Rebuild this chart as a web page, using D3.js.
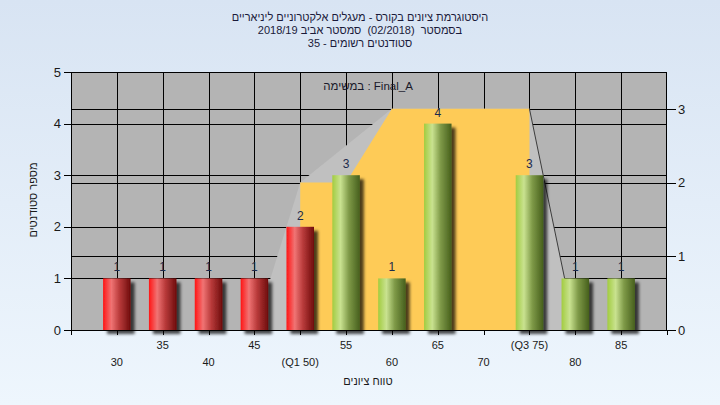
<!DOCTYPE html>
<html><head><meta charset="utf-8">
<script src="https://cdn.jsdelivr.net/npm/d3@7"></script>
<style>
html,body{margin:0;padding:0;}
svg{display:block;}
text{font-family:"Liberation Sans",Arial,"DejaVu Sans",sans-serif;white-space:pre;}
</style></head>
<body>
<svg id="chart" width="720" height="405"></svg>
<script>
// ---- data ----
const categories = [30,35,40,45,50,55,60,65,70,75,80,85];
const counts     = [1,1,1,1,2,3,1,4,0,3,1,1];
const tickLabels = ["30","35","40","45","(Q1 50)","55","60","65","70","(Q3 75)","80","85"];
const passMark = 55;
const grayX   = [45,50,60,75,80];
const grayY   = [0,2,3,3,0];
const yellowX = [50,50,55,60,75,75];
const yellowY = [0,2,2,3,3,0];
const titleLines = ["היסטוגרמת ציונים בקורס - מעגלים אלקטרוניים ליניאריים",
                    "בסמסטר  (02/2018)  סמסטר אביב 2018/19",
                    "סטודנטים רשומים - 35"];
const subtitle = "במשימה : Final_A";
const yTitle = "מספר סטודנטים";
const xTitle = "טווח ציונים";
const leftTicks = [0,1,2,3,4,5];
const rightTicks = [0,1,2,3];

// ---- layout ----
const W=720,H=405;
const L=71,R=667,T=72,B=330;
const svg=d3.select("#chart");
const defs=svg.append("defs");

const bg=defs.append("linearGradient").attr("id","bg").attr("x1",0).attr("y1",0).attr("x2",0).attr("y2",1);
bg.append("stop").attr("offset","0%").attr("stop-color","#d8e4f3");
bg.append("stop").attr("offset","100%").attr("stop-color","#eef6fd");
svg.append("rect").attr("width",W).attr("height",H).attr("fill","url(#bg)");

function cyl(id,c0,c1,c2,c3){
  const g=defs.append("linearGradient").attr("id",id).attr("x1",0).attr("y1",0).attr("x2",1).attr("y2",0);
  g.append("stop").attr("offset","0%").attr("stop-color",c0);
  g.append("stop").attr("offset","30%").attr("stop-color",c1);
  g.append("stop").attr("offset","60%").attr("stop-color",c2);
  g.append("stop").attr("offset","100%").attr("stop-color",c3);
}
cyl("gRed","#ff1414","#f07474","#b83a3a","#6e0c0c");
cyl("gGreen","#a2cc40","#c9e290","#7f9a48","#465f1c");

const f=defs.append("filter").attr("id","sh").attr("x","-20%").attr("y","-20%").attr("width","160%").attr("height","140%");
f.append("feDropShadow").attr("dx",4).attr("dy",4).attr("stdDeviation",1.8).attr("flood-color","#000").attr("flood-opacity",0.7);

const x=d3.scaleLinear().domain([25,90]).range([L,R]);
const yL=d3.scaleLinear().domain([0,5]).range([B,T]);
const yR=d3.scaleLinear().domain([0,3.5]).range([B,T]);
const step=x(35)-x(30);
const bw=step*0.6;

// plot bg
svg.append("rect").attr("x",L).attr("y",T).attr("width",R-L).attr("height",B-T).attr("fill","#b4b4b4");

// gridlines
const grid=svg.append("g").attr("stroke","#000").attr("stroke-width",1).attr("shape-rendering","crispEdges");
grid.selectAll("line.v").data(categories).join("line")
  .attr("x1",d=>Math.round(x(d))+0.5).attr("x2",d=>Math.round(x(d))+0.5).attr("y1",T).attr("y2",B);
grid.selectAll("line.hl").data(leftTicks.slice(1,-1)).join("line")
  .attr("x1",L).attr("x2",R).attr("y1",d=>Math.round(yL(d))+0.5).attr("y2",d=>Math.round(yL(d))+0.5);
grid.selectAll("line.hr").data(rightTicks.slice(1)).join("line")
  .attr("x1",L).attr("x2",R).attr("y1",d=>Math.round(yR(d))+0.5).attr("y2",d=>Math.round(yR(d))+0.5);

// areas
const area=d3.line().x(d=>x(d[0])).y(d=>yR(d[1]));
svg.append("path").attr("d",area(d3.zip(grayX,grayY))+"Z").attr("fill","#c0c0c0");
svg.append("path").attr("d",area(d3.zip(yellowX,yellowY))+"Z").attr("fill","#fecb57");
svg.append("path").attr("d",area(d3.zip(grayX.slice(3),grayY.slice(3)))).attr("fill","none").attr("stroke","#3c3c3c").attr("stroke-width",1);

// frame
svg.append("rect").attr("x",L+0.5).attr("y",T+0.5).attr("width",R-L-1).attr("height",B-T).attr("fill","none").attr("stroke","#000").attr("shape-rendering","crispEdges");

// axes
const ax=svg.append("g").attr("transform",`translate(0,${B})`)
  .call(d3.axisBottom(x).tickValues([25].concat(categories,[90])).tickSize(5).tickFormat(""));
ax.select(".domain").remove();
ax.selectAll("line").attr("stroke","#000").attr("shape-rendering","crispEdges");
svg.append("line").attr("x1",L-5).attr("x2",R).attr("y1",B+0.5).attr("y2",B+0.5).attr("stroke","#000").attr("shape-rendering","crispEdges");

const ay=svg.append("g").attr("transform",`translate(${L},0)`)
  .call(d3.axisLeft(yL).tickValues(leftTicks).tickSize(7).tickPadding(3).tickFormat(d3.format("d")));
ay.select(".domain").remove();
ay.selectAll("line").attr("stroke","#000").attr("shape-rendering","crispEdges");
ay.selectAll("text").attr("font-size",13).attr("fill","#1a1a1a").attr("font-family","'Liberation Sans',Arial,sans-serif");

const ayr=svg.append("g").attr("transform",`translate(${R},0)`)
  .call(d3.axisRight(yR).tickValues(rightTicks).tickSize(9).tickPadding(2).tickFormat(d3.format("d")));
ayr.select(".domain").remove();
ayr.selectAll("line").attr("stroke","#000").attr("shape-rendering","crispEdges");
ayr.selectAll("text").attr("font-size",13).attr("fill","#1a1a1a").attr("font-family","'Liberation Sans',Arial,sans-serif");

// bars
const data=categories.map((c,i)=>({c,v:counts[i]}));
svg.append("g").selectAll("rect").data(data.filter(d=>d.v>0)).join("rect")
  .attr("x",d=>x(d.c)-bw/2).attr("width",bw)
  .attr("y",d=>yL(d.v)).attr("height",d=>yL(0)-yL(d.v))
  .attr("fill",d=>d.c<passMark?"url(#gRed)":"url(#gGreen)")
  .attr("filter","url(#sh)");

svg.append("g").selectAll("text").data(data.filter(d=>d.v>0)).join("text")
  .attr("x",d=>x(d.c)).attr("y",d=>yL(d.v)-7)
  .attr("text-anchor","middle").attr("font-size",12).attr("fill","#1c2a4c")
  .text(d=>d.v);

// x tick labels (staggered)
svg.append("g").selectAll("text").data(categories).join("text")
  .attr("x",d=>x(d)).attr("y",(d,i)=>i%2===0?366:349)
  .attr("text-anchor","middle").attr("font-size",11).attr("fill","#1a1a1a")
  .attr("direction","ltr")
  .text((d,i)=>tickLabels[i]);

// titles
svg.append("g").selectAll("text").data(titleLines).join("text")
  .attr("x",360).attr("y",(d,i)=>21+i*13)
  .attr("text-anchor","middle").attr("direction","rtl").attr("unicode-bidi","embed")
  .attr("font-size",11).attr("fill","#1a1a3a")
  .text(d=>d);

svg.append("text").attr("x",368).attr("y",90).attr("text-anchor","middle")
  .attr("direction","ltr").attr("font-size",11.5).attr("fill","#1a1a2a").text(subtitle);

svg.append("text").attr("x",368).attr("y",385).attr("text-anchor","middle")
  .attr("direction","rtl").attr("font-size",11).attr("fill","#1a1a1a").text(xTitle);

svg.append("text").attr("transform","translate(37,200) rotate(-90)").attr("text-anchor","middle")
  .attr("direction","rtl").attr("font-size",11).attr("fill","#1a1a1a").text(yTitle);
</script>
</body></html>
